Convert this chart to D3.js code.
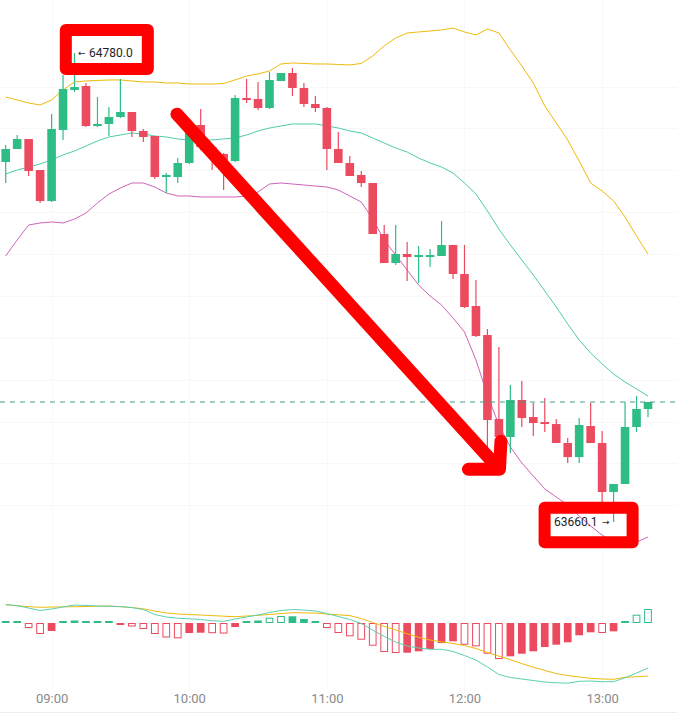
<!DOCTYPE html>
<html>
<head>
<meta charset="utf-8">
<script src="https://cdn.jsdelivr.net/npm/d3@7"></script>
<style>
  html, body { margin: 0; padding: 0; background: #fff; }
  svg { display: block; font-family: Roboto, "Noto Sans", sans-serif; }
</style>
</head>
<body>
<svg id="chart" width="677" height="715"></svg>
<script>
// 5 minute candles, 08:40 .. 13:20
const START    = new Date(2024, 4, 20, 8, 40);
const STEP_MIN = 5;

const opens = [
  64519.7, 64550.8, 64574.6, 64500.6, 64426.6, 64596.1, 64691.6, 64701.2, 64605.7, 64610.5,
  64627.2, 64639.1, 64593.7, 64581.8, 64483.9, 64483.9, 64517.3, 64608.1, 64555.5, 64538.8,
  64522.1, 64672.5, 64670.2, 64648.7, 64713.1, 64732.2, 64696.4, 64658.2, 64648.7, 64550.8,
  64517.3, 64488.7, 64469.6, 64347.8, 64278.5, 64300.0, 64292.8, 64292.8, 64295.2, 64321.5,
  64252.3, 64175.8, 64106.6, 63906.0, 63863.0, 63951.4, 63910.8, 63898.8, 63894.0, 63848.7,
  63815.2, 63889.3, 63848.7, 63731.7, 63750.8, 63886.9, 63929.9
];
const highs = [
  64560.3, 64584.2, 64574.6, 64500.6, 64634.3, 64727.5, 64780.0, 64708.4, 64674.9, 64651.0,
  64717.9, 64639.1, 64598.5, 64581.8, 64493.4, 64529.3, 64608.1, 64646.3, 64560.3, 64541.2,
  64679.7, 64717.9, 64710.7, 64734.6, 64732.2, 64744.2, 64708.4, 64677.3, 64651.0, 64591.3,
  64534.0, 64498.2, 64469.6, 64369.3, 64369.3, 64328.7, 64319.1, 64312.0, 64378.8, 64321.5,
  64321.5, 64237.9, 64120.9, 64077.9, 63987.2, 63996.7, 63944.2, 63956.1, 63906.0, 63860.6,
  63908.4, 63944.2, 63877.3, 63750.8, 63946.6, 63960.9, 63946.6
];
const lows = [
  64469.6, 64550.8, 64486.3, 64421.8, 64424.2, 64572.2, 64686.9, 64603.3, 64603.3, 64581.8,
  64624.8, 64579.4, 64567.5, 64479.1, 64445.7, 64469.6, 64514.9, 64548.4, 64500.6, 64452.8,
  64519.7, 64660.6, 64643.9, 64646.3, 64713.1, 64677.3, 64651.0, 64639.1, 64500.6, 64517.3,
  64486.3, 64460.0, 64347.8, 64278.5, 64273.7, 64235.5, 64230.8, 64269.0, 64295.2, 64240.3,
  64171.1, 64101.8, 63824.8, 63855.8, 63824.8, 63886.9, 63865.4, 63874.9, 63848.7, 63800.9,
  63800.9, 63848.7, 63705.4, 63660.1, 63750.8, 63874.9, 63910.8
];
const closes = [
  64550.8, 64574.6, 64498.2, 64426.6, 64598.5, 64694.0, 64698.8, 64605.7, 64610.5, 64627.2,
  64639.1, 64593.7, 64579.4, 64483.9, 64488.7, 64517.3, 64605.7, 64555.5, 64541.2, 64522.1,
  64672.5, 64667.8, 64648.7, 64715.5, 64732.2, 64696.4, 64658.2, 64648.7, 64550.8, 64517.3,
  64486.3, 64469.6, 64347.8, 64278.5, 64300.0, 64292.8, 64297.6, 64297.6, 64321.5, 64252.3,
  64173.4, 64104.2, 63903.6, 63863.0, 63951.4, 63908.4, 63896.4, 63894.0, 63848.7, 63815.2,
  63891.7, 63848.7, 63731.7, 63750.8, 63886.9, 63929.9, 63946.6
];

// Bollinger bands
const bbUpper = [
  64675.0, 64667.8, 64660.6, 64655.9, 64667.8, 64691.7, 64710.8, 64713.2, 64714.4, 64715.6,
  64715.6, 64713.2, 64710.8, 64710.8, 64708.4, 64708.4, 64706.0, 64706.0, 64706.0, 64707.2,
  64715.6, 64725.1, 64729.9, 64737.1, 64753.8, 64756.2, 64755.0, 64753.8, 64753.8, 64752.6,
  64751.4, 64755.0, 64772.9, 64796.8, 64815.9, 64827.8, 64830.2, 64832.6, 64835.0, 64839.7,
  64830.2, 64823.0, 64837.3, 64827.8, 64787.2, 64749.0, 64708.4, 64653.5, 64612.9, 64572.3,
  64522.1, 64469.6, 64450.5, 64426.6, 64388.4, 64343.0, 64300.0
];
const bbMid = [
  64491.1, 64500.6, 64507.8, 64515.0, 64524.5, 64536.5, 64546.0, 64558.0, 64569.9, 64579.4,
  64584.2, 64589.0, 64586.6, 64581.8, 64579.4, 64574.7, 64572.3, 64572.3, 64572.3, 64574.7,
  64577.1, 64584.2, 64593.8, 64600.9, 64605.7, 64610.5, 64610.5, 64610.5, 64605.7, 64600.9,
  64593.8, 64589.0, 64577.1, 64565.1, 64553.2, 64543.6, 64529.3, 64517.4, 64507.8, 64493.5,
  64469.6, 64443.3, 64402.7, 64359.7, 64321.5, 64285.7, 64249.9, 64211.7, 64173.5, 64132.9,
  64094.7, 64063.6, 64037.4, 64013.5, 63994.4, 63977.7, 63961.0
];
const bbLower = [
  64295.3, 64333.5, 64369.3, 64374.1, 64376.5, 64374.1, 64383.6, 64398.0, 64421.8, 64443.3,
  64457.7, 64469.6, 64469.6, 64460.0, 64445.7, 64438.6, 64438.6, 64436.2, 64436.2, 64436.2,
  64436.2, 64438.6, 64448.1, 64467.2, 64469.6, 64467.2, 64464.8, 64462.4, 64460.0, 64452.9,
  64438.6, 64424.2, 64383.6, 64333.5, 64297.7, 64261.8, 64226.0, 64199.8, 64178.3, 64147.2,
  64113.8, 64046.9, 63963.3, 63891.7, 63839.2, 63801.0, 63769.9, 63738.9, 63719.8, 63700.7,
  63674.4, 63650.5, 63629.0, 63612.3, 63600.4, 63612.3, 63624.2
];

// MACD
const macdDif = [
  18.5, 17.3, 15.0, 12.5, 14.0, 16.0, 18.0, 17.5, 17.0, 16.7,
  16.3, 15.4, 13.5, 8.5, 6.0, 4.8, 4.2, 3.6, 2.2, 1.7,
  4.0, 6.0, 8.0, 10.5, 12.5, 13.5, 13.0, 12.0, 9.5, 6.5,
  3.5, -0.5, -7.0, -13.5, -19.0, -23.0, -25.0, -26.3, -26.3, -28.5,
  -32.5, -37.0, -44.0, -51.5, -54.5, -56.0, -57.5, -59.0, -59.8, -60.2,
  -58.3, -58.0, -58.7, -58.7, -54.8, -50.0, -45.0
];
const macdDea = [
  18.2, 17.2, 16.4, 15.7, 15.9, 16.2, 16.3, 16.5, 16.8, 17.0,
  16.4, 15.5, 14.2, 12.0, 10.0, 9.0, 8.4, 8.0, 7.4, 6.8,
  6.3, 7.0, 7.7, 8.5, 9.5, 10.3, 10.1, 9.9, 9.0, 8.2,
  7.4, 4.5, 0.5, -3.4, -7.0, -10.7, -14.3, -17.0, -18.8, -20.5,
  -22.6, -25.5, -29.5, -33.2, -36.7, -40.6, -44.2, -47.4, -50.6, -52.5,
  -54.0, -55.3, -56.0, -56.3, -54.3, -53.7, -53.0
];
const macdHist = [
  0.5, 0.4, -5.0, -11.0, -8.0, 0.5, 2.5, 0.8, 0.7, 0.6,
  -0.7, -3.5, -6.0, -11.0, -14.5, -15.3, -10.0, -9.7, -10.2, -10.5,
  -4.0, 0.5, 2.5, 5.3, 7.0, 6.7, 4.0, 0.6, -5.0, -10.0,
  -13.3, -16.7, -22.7, -29.0, -30.0, -29.7, -28.3, -26.0, -20.0, -18.3,
  -21.7, -23.3, -30.7, -36.0, -33.3, -30.7, -28.3, -24.0, -21.7, -19.3,
  -12.3, -9.3, -10.0, -8.3, 0.8, 8.3, 14.0
];

const GREEN = "#2ebd85";
const RED   = "#ec4a5f";

const timeAt = i => new Date(START.getTime() + i * STEP_MIN * 60000);

const candles = opens.map((o, i) => ({
  t: timeAt(i), open: o, high: highs[i], low: lows[i], close: closes[i]
}));

const svg = d3.select("#chart");

const x = d3.scaleTime()
  .domain([candles[0].t, candles[candles.length - 1].t])
  .range([5.7, 648]);
const y = d3.scaleLinear().domain([63660.1, 64780]).range([522, 53]);
const yM = d3.scaleLinear().domain([-70, 25]).range([693, 598]);

// very faint grid
const grid = svg.append("g").attr("stroke", "#f8f8f8").attr("stroke-width", 1);
grid.selectAll("line.h")
  .data(d3.range(63700, 64800, 100))
  .enter().append("line")
    .attr("class", "h")
    .attr("x1", 0).attr("x2", 677)
    .attr("y1", d => Math.round(y(d)) + 0.5)
    .attr("y2", d => Math.round(y(d)) + 0.5);
grid.selectAll("line.v")
  .data(x.ticks(d3.timeHour.every(1)))
  .enter().append("line")
    .attr("class", "v")
    .attr("x1", d => Math.round(x(d)) + 0.5)
    .attr("x2", d => Math.round(x(d)) + 0.5)
    .attr("y1", 0).attr("y2", 690);

svg.append("line")
  .attr("x1", 0).attr("x2", 677).attr("y1", 712.5).attr("y2", 712.5)
  .attr("stroke", "#ececec");

// Bollinger bands
const bandLine = vals => d3.line()
  .x((d, i) => x(timeAt(i)))
  .y(d => y(d))(vals);

[[bbUpper, "#f0b90b"], [bbMid, "#4fcca9"], [bbLower, "#cf63b9"]].forEach(([vals, col]) => {
  svg.append("path")
    .attr("d", bandLine(vals))
    .attr("fill", "none")
    .attr("stroke", col)
    .attr("stroke-width", 1);
});

// candles
const CW = 8.6;
const cg = svg.append("g")
  .selectAll("g")
  .data(candles)
  .enter().append("g")
    .attr("fill", d => d.close >= d.open ? GREEN : RED)
    .attr("stroke", d => d.close >= d.open ? GREEN : RED);

cg.append("line")
  .attr("x1", d => x(d.t)).attr("x2", d => x(d.t))
  .attr("y1", d => y(d.high)).attr("y2", d => y(d.low))
  .attr("stroke-width", 1.2);

cg.append("rect")
  .attr("stroke", "none")
  .attr("x", d => x(d.t) - CW / 2)
  .attr("width", CW)
  .attr("y", d => y(Math.max(d.open, d.close)))
  .attr("height", d => Math.max(2, Math.abs(y(d.open) - y(d.close))));

// last price line
const last = candles[candles.length - 1];
svg.append("line")
  .attr("x1", 0).attr("x2", 677)
  .attr("y1", y(last.close)).attr("y2", y(last.close))
  .attr("stroke", "#4b9c8c")
  .attr("stroke-width", 1)
  .attr("stroke-dasharray", "5,5");

// high / low labels
const hiIdx = d3.maxIndex(highs);
const loIdx = d3.minIndex(lows);
const hx = x(timeAt(hiIdx)), hy = y(highs[hiIdx]);
const lx = x(timeAt(loIdx)), ly = y(lows[loIdx]);

svg.append("text")
  .attr("x", hx + 3.5).attr("y", hy).attr("dy", "0.35em")
  .attr("font-family", "DejaVu Sans, sans-serif")
  .attr("font-size", 9).attr("fill", "#1e2329")
  .text("←");
svg.append("text")
  .attr("x", hx + 14.6).attr("y", hy).attr("dy", "0.35em")
  .attr("font-size", 12).attr("fill", "#1e2329")
  .text(highs[hiIdx].toFixed(1));

svg.append("text")
  .attr("x", lx - 16).attr("y", ly).attr("dy", "0.35em")
  .attr("text-anchor", "end")
  .attr("font-size", 12).attr("fill", "#1e2329")
  .text(lows[loIdx].toFixed(1));
svg.append("text")
  .attr("x", lx - 11.5).attr("y", ly).attr("dy", "0.35em")
  .attr("font-family", "DejaVu Sans, sans-serif")
  .attr("font-size", 9).attr("fill", "#1e2329")
  .text("→");

// red highlight boxes
const boxStyle = sel => sel
  .attr("fill", "none")
  .attr("stroke", "#ff0000")
  .attr("stroke-width", 12)
  .attr("stroke-linejoin", "round");

svg.append("rect")
  .attr("x", hx - 8.7).attr("y", hy - 23)
  .attr("width", 82).attr("height", 39)
  .call(boxStyle);

svg.append("rect")
  .attr("x", lx - 69).attr("y", ly - 14.3)
  .attr("width", 88).attr("height", 34.6)
  .call(boxStyle);

// big red arrow
const arrowFrom = [timeAt(14.93), 64634];
const arrowTo   = [timeAt(43.05), 63786];
const ax0 = x(arrowFrom[0]), ay0 = y(arrowFrom[1]);
const ax1 = x(arrowTo[0]),   ay1 = y(arrowTo[1]);
svg.append("path")
  .attr("d", `M${ax0},${ay0}L${ax1},${ay1}M${ax1 - 31},${ay1}L${ax1},${ay1}L${ax1 + 1.5},${ay1 - 28}`)
  .attr("fill", "none")
  .attr("stroke", "#ff0000")
  .attr("stroke-width", 13)
  .attr("stroke-linecap", "round")
  .attr("stroke-linejoin", "round");

// MACD histogram
const HW = 7.7;
svg.append("g")
  .selectAll("rect")
  .data(macdHist)
  .enter().append("rect")
    .each(function (v, i) {
      const prev = i > 0 ? macdHist[i - 1] : v;
      const hollow = Math.abs(v) > Math.abs(prev) && i > 0;
      const col = v >= 0 ? GREEN : RED;
      const h = Math.max(2, Math.abs(yM(v) - yM(0)));
      const top = v >= 0 ? yM(0) - h : yM(0);
      const r = d3.select(this)
        .attr("x", x(timeAt(i)) - HW / 2)
        .attr("width", HW)
        .attr("y", top)
        .attr("height", h);
      if (hollow && h > 2.5) {
        r.attr("fill", "#fff").attr("stroke", col).attr("stroke-width", 1)
         .attr("x", x(timeAt(i)) - HW / 2 + 0.5)
         .attr("width", HW - 1)
         .attr("y", top + 0.5)
         .attr("height", h - 1);
      } else {
        r.attr("fill", col);
      }
    });

const macdLine = vals => d3.line()
  .x((d, i) => x(timeAt(i)))
  .y(d => yM(d))(vals);

svg.append("path")
  .attr("d", macdLine(macdDea))
  .attr("fill", "none").attr("stroke", "#f0b90b").attr("stroke-width", 1);
svg.append("path")
  .attr("d", macdLine(macdDif))
  .attr("fill", "none").attr("stroke", "#5ccfb2").attr("stroke-width", 1);

// time axis
const axis = svg.append("g")
  .attr("transform", "translate(0,693.3)")
  .call(d3.axisBottom(x)
    .ticks(d3.timeHour.every(1))
    .tickFormat(d3.timeFormat("%H:%M"))
    .tickSize(0)
    .tickPadding(0));
axis.select(".domain").remove();
axis.selectAll("text")
  .attr("font-family", "Roboto, sans-serif")
  .attr("font-size", 13)
  .attr("fill", "#8a8a8a");
</script>
</body>
</html>
